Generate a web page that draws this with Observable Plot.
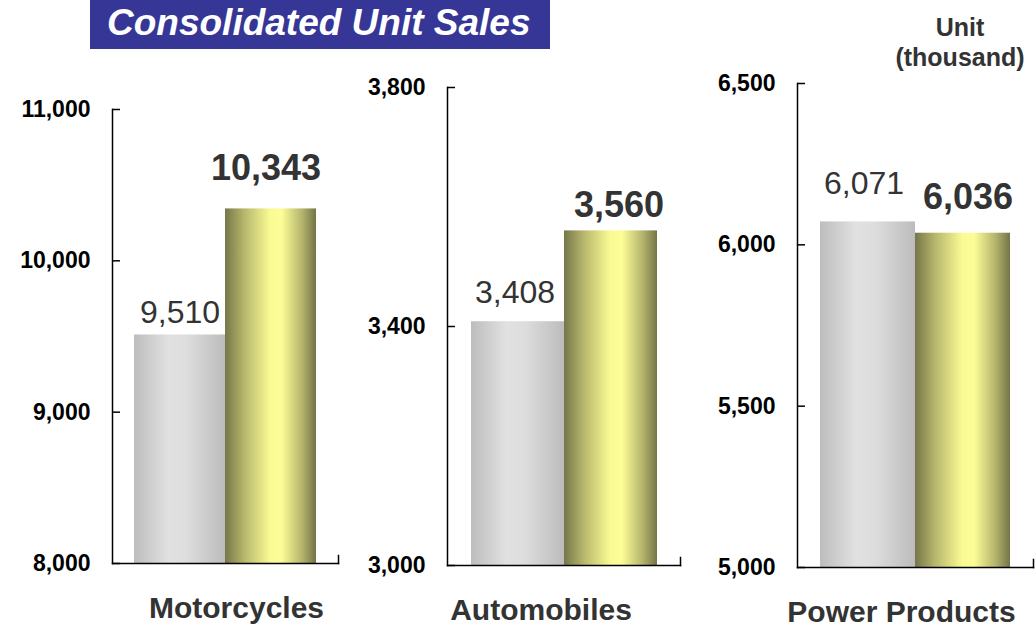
<!DOCTYPE html>
<html>
<head>
<meta charset="utf-8">
<script src="https://cdn.jsdelivr.net/npm/d3@7"></script>
<script src="https://cdn.jsdelivr.net/npm/@observablehq/plot@0.6"></script>
<style>
  html, body { margin: 0; padding: 0; background: #fff; }
  #root { position: relative; width: 1035px; height: 629px; overflow: hidden; font-family: "Liberation Sans", Arial, sans-serif; }
  #title { position: absolute; left: 90px; top: 0; width: 460px; height: 49px; background: #363696; color: #fff;
           font: italic bold 37px "Liberation Sans", Arial, sans-serif; line-height: 46px; box-sizing: border-box; padding-left: 17px; white-space: nowrap; }
  #unit { position: absolute; left: 870px; top: 12px; width: 180px; text-align: center; color: #333;
          font: bold 25px "Liberation Sans", Arial, sans-serif; line-height: 30px; }
  .panel { position: absolute; top: 0; }
</style>
</head>
<body>
<div id="root">
  <div id="title">Consolidated Unit Sales</div>
  <div id="unit">Unit<br>(thousand)</div>
</div>
<script>
// ---- data ----
const categories = ["Motorcycles", "Automobiles", "Power Products"];
const series = ["Previous", "Current"];
const previousValues = [9510, 3408, 6071];
const currentValues = [10343, 3560, 6036];
const yDomains = [[8000, 11000], [3000, 3800], [5000, 6500]];
const yTicks = [[8000, 9000, 10000, 11000], [3000, 3400, 3800], [5000, 5500, 6000, 6500]];

// ---- layout (pixel geometry of each panel's frame and label nudges) ----
const frames = [
  {left: 112, right: 338, top: 109, bottom: 563, labelDx: 11,  prevDy: -12, currDy: -29, prevDx: 0,  currDx: -5},
  {left: 447, right: 680, top: 87,  bottom: 565, labelDx: -23, prevDy: -19, currDy: -14, prevDx: -3, currDx: 8},
  {left: 797, right: 1033, top: 83, bottom: 567, labelDx: -14, prevDy: -28, currDy: -24, prevDx: -4, currDx: 5}
];
const ML = 110, MR = 2, H = 629;

const root = document.getElementById("root");

categories.forEach((cat, i) => {
  const f = frames[i];
  const rows = [
    {series: series[0], value: previousValues[i]},
    {series: series[1], value: currentValues[i]}
  ];
  const gid = "g" + i;
  const defs = () => {
    const d = d3.create("svg:defs");
    const g1 = d.append("linearGradient").attr("id", gid + "gray").attr("x1", 0).attr("x2", 1).attr("y1", 0).attr("y2", 0);
    [[0, "#bdbdbd"], [0.38, "#e1e1e1"], [0.58, "#dddddd"], [1, "#bcbcbc"]]
      .forEach(([o, c]) => g1.append("stop").attr("offset", o).attr("stop-color", c));
    const g2 = d.append("linearGradient").attr("id", gid + "gold").attr("x1", 0).attr("x2", 1).attr("y1", 0).attr("y2", 0);
    [[0, "#76764a"], [0.22, "#b9b96e"], [0.5, "#fbfb94"], [0.62, "#fdfd98"], [0.85, "#b3b36c"], [1, "#747448"]]
      .forEach(([o, c]) => g2.append("stop").attr("offset", o).attr("stop-color", c));
    return d.node();
  };
  const plotH = f.bottom - f.top;
  const fmt = d3.format(",");
  const chart = Plot.plot({
    width: ML + (f.right - f.left) + MR,
    height: H,
    marginLeft: ML,
    marginRight: MR,
    marginTop: f.top,
    marginBottom: H - f.bottom,
    style: {fontFamily: "'Liberation Sans', Arial, sans-serif", background: "transparent", overflow: "visible"},
    x: {domain: series, paddingInner: 0, paddingOuter: 0.24, axis: null},
    y: {domain: yDomains[i], label: null},
    marks: [
      defs,
      Plot.barY(rows.slice(0, 1), {x: "series", y1: yDomains[i][0], y2: "value", fill: `url(#${gid}gray)`}),
      Plot.barY(rows.slice(1), {x: "series", y1: yDomains[i][0], y2: "value", fill: `url(#${gid}gold)`}),
      Plot.frame({anchor: "left", stroke: "#000", strokeWidth: 1.5}),
      Plot.frame({anchor: "bottom", stroke: "#000", strokeWidth: 1.5}),
      Plot.frame({anchor: "right", stroke: "#000", strokeWidth: 1.5, insetTop: plotH - 8}),
      Plot.axisY(yTicks[i], {label: null, tickSize: -8, tickPadding: 30, strokeWidth: 1.5, tickFormat: fmt,
        fontSize: 23, fontWeight: "bold", fill: "#000", stroke: "#000"}),
      Plot.text(rows.slice(0, 1), {x: "series", y: "value", text: d => fmt(d.value),
        lineAnchor: "bottom", dy: f.prevDy, dx: f.prevDx, fontSize: 32, fill: "#333"}),
      Plot.text(rows.slice(1), {x: "series", y: "value", text: d => fmt(d.value),
        lineAnchor: "bottom", dy: f.currDy, dx: f.currDx, fontSize: 36, fontWeight: "bold", fill: "#333"}),
      Plot.text([cat], {text: d => d, frameAnchor: "bottom", dy: 45, dx: f.labelDx, lineAnchor: "middle",
        fontSize: 30, fontWeight: "bold", fill: "#333"})
    ]
  });
  chart.classList.add("panel");
  chart.style.left = (f.left - ML) + "px";
  root.appendChild(chart);
});
</script>
</body>
</html>
